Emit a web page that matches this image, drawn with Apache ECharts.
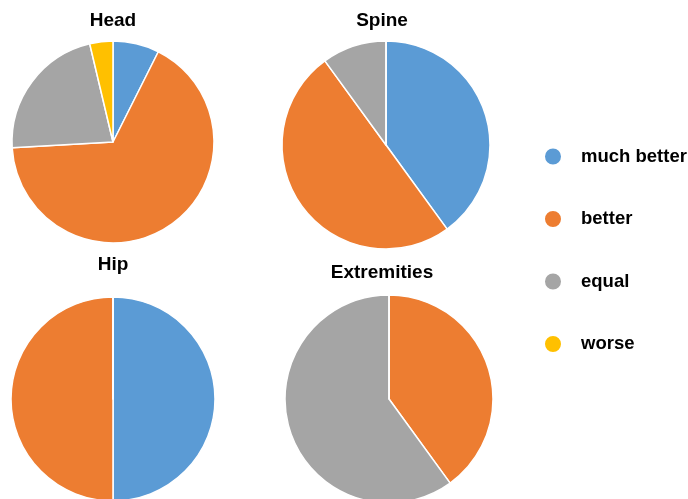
<!DOCTYPE html>
<html>
<head>
<meta charset="utf-8">
<script src="https://cdn.jsdelivr.net/npm/echarts@6/dist/echarts.min.js"></script>
<style>
  html, body { margin: 0; padding: 0; background: #fff; }
  #chart { width: 688px; height: 499px; }
</style>
</head>
<body>
<div id="chart"></div>
<script>
// Response categories and the number of cases in each region
var categories = ['much better', 'better', 'equal', 'worse'];
var regions = ['Head', 'Spine', 'Hip', 'Extremities'];
var headValues = [2, 18, 6, 1];
var spineValues = [4, 5, 1, 0];
var hipValues = [1, 1, 0, 0];
var extremitiesValues = [0, 2, 3, 0];

var palette = ['#5B9BD5', '#ED7D31', '#A5A5A5', '#FFC000'];
var font = 'Liberation Sans, Arial, sans-serif';

var layout = [
  { center: [113, 142], radius: 101, title: [113, 11] },
  { center: [386, 145], radius: 104, title: [382, 11] },
  { center: [113, 399], radius: 102, title: [113, 255] },
  { center: [389, 399], radius: 104, title: [382, 263] }
];
var valueSets = [headValues, spineValues, hipValues, extremitiesValues];

var chart = echarts.init(document.getElementById('chart'), null, { renderer: 'canvas' });

chart.setOption({
  animation: false,
  color: palette,
  title: regions.map(function (name, i) {
    return {
      text: name,
      left: layout[i].title[0],
      top: layout[i].title[1],
      textAlign: 'center',
      padding: 0,
      textStyle: { fontFamily: font, fontSize: 19, fontWeight: 'bold', color: '#000' }
    };
  }),
  legend: {
    orient: 'vertical',
    left: 543,
    top: 146.5,
    padding: 0,
    itemWidth: 18,
    itemHeight: 18,
    itemGap: 42.5,
    icon: 'circle',
    data: categories,
    textStyle: { fontFamily: font, fontSize: 18.5, fontWeight: 'bold', color: '#000', padding: [0, 0, 0, 14] },
    selectedMode: false
  },
  series: regions.map(function (name, i) {
    return {
      type: 'pie',
      name: name,
      center: layout[i].center,
      radius: layout[i].radius,
      startAngle: 90,
      clockwise: true,
      label: { show: false },
      labelLine: { show: false },
      emphasis: { disabled: true },
      itemStyle: { borderColor: '#fff', borderWidth: 1.5 },
      data: categories.map(function (c, k) {
        return { name: c, value: valueSets[i][k] };
      })
    };
  })
});
</script>
</body>
</html>
